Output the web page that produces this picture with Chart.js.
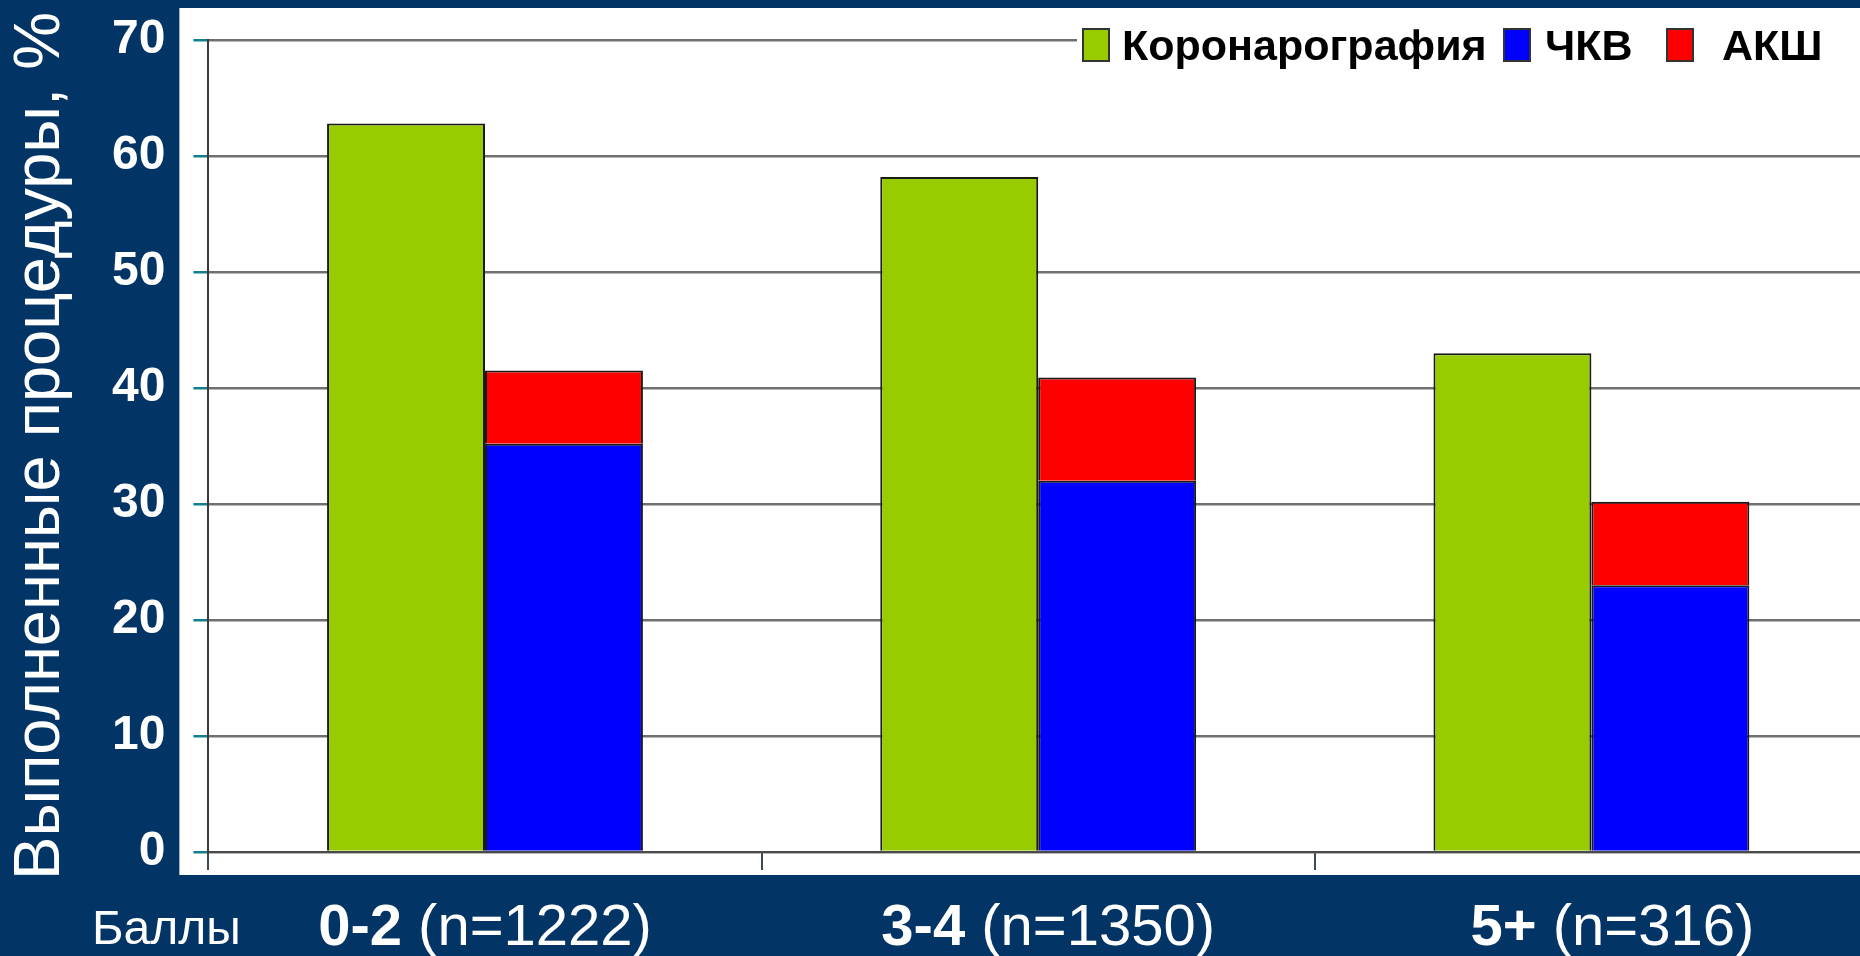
<!DOCTYPE html>
<html>
<head>
<meta charset="utf-8">
<script src="https://cdn.jsdelivr.net/npm/chart.js@4.4.0/dist/chart.umd.min.js"></script>
<style>
  html, body { margin: 0; padding: 0; background: #023466; overflow: hidden; }
  #wrap { width: 1868px; height: 956px; position: relative; }
</style>
</head>
<body>
<div id="wrap"><canvas id="procChart"></canvas></div>
<script>
const scoreGroups = ['0-2', '3-4', '5+'];
const groupSizes = ['(n=1222)', '(n=1350)', '(n=316)'];
const angiography = [62.8, 58.2, 43.0];
const pci = [35.2, 32.0, 23.0];
const cabg = [6.3, 8.9, 7.2];
const seriesNames = ['Коронарография', 'ЧКВ', 'АКШ'];
const seriesColors = ['#99cc00', '#0000ff', '#ff0000'];
const yMax = 70;
const yStep = 10;

const FONT = '"Liberation Sans", Arial, sans-serif';

// white panel behind the plot, the y labels stay on navy
const plotBackground = {
  id: 'plotBackground',
  beforeDraw(chart) {
    const { ctx, chartArea } = chart;
    ctx.save();
    ctx.fillStyle = '#ffffff';
    ctx.fillRect(chartArea.left - 29, chartArea.top - 32, chart.width, chartArea.bottom - chartArea.top + 55);
    ctx.restore();
  }
};

// legend drawn by hand so the spacing matches the slide
const legendBoxX = [1083, 1504, 1667];
const legendTextX = [1122, 1545, 1722];
const slideLegend = {
  id: 'slideLegend',
  afterDraw(chart) {
    const { ctx } = chart;
    ctx.save();
    ctx.fillStyle = '#ffffff';
    ctx.fillRect(1077, 18, chart.width - 1077, 52);
    ctx.font = 'bold 43px ' + FONT;
    ctx.textBaseline = 'alphabetic';
    chart.data.datasets.forEach((ds, i) => {
      ctx.fillStyle = ds.backgroundColor;
      ctx.fillRect(legendBoxX[i], 29, 26, 32);
      ctx.strokeStyle = '#333';
      ctx.lineWidth = 2;
      ctx.strokeRect(legendBoxX[i], 29, 26, 32);
      ctx.fillStyle = '#000';
      ctx.fillText(ds.label, legendTextX[i], 60);
    });
    ctx.restore();
  }
};

// category labels: bold score + normal count
const xLabels = {
  id: 'xLabels',
  afterDraw(chart) {
    const { ctx } = chart;
    const xs = chart.scales.x;
    const nudge = [0, 10, 21];
    ctx.save();
    ctx.fillStyle = '#ffffff';
    ctx.textBaseline = 'alphabetic';
    const y = 945;
    ctx.font = '48px ' + FONT;
    ctx.fillText('Баллы', 92, y - 1);
    scoreGroups.forEach((g, i) => {
      ctx.font = 'bold 58px ' + FONT;
      const wb = ctx.measureText(g).width;
      ctx.font = '58px ' + FONT;
      const rest = ' ' + groupSizes[i];
      const wn = ctx.measureText(rest).width;
      const cx = xs.getPixelForTick(i) + nudge[i];
      const x = cx - (wb + wn) / 2;
      ctx.font = 'bold 58px ' + FONT;
      ctx.fillText(g, x, y);
      ctx.font = '58px ' + FONT;
      ctx.fillText(rest, x + wb, y);
    });
    ctx.restore();
  }
};

new Chart(document.getElementById('procChart'), {
  type: 'bar',
  data: {
    labels: scoreGroups,
    datasets: [
      { label: seriesNames[0], data: angiography, backgroundColor: seriesColors[0], stack: 'cor' },
      { label: seriesNames[1], data: pci, backgroundColor: seriesColors[1], stack: 'rev' },
      { label: seriesNames[2], data: cabg, backgroundColor: seriesColors[2], stack: 'rev' }
    ]
  },
  options: {
    responsive: true,
    maintainAspectRatio: false,
    animation: false,
    layout: { padding: { top: 40, bottom: 86, left: 0, right: 0 } },
    datasets: {
      bar: {
        borderColor: '#1a1a1a',
        borderWidth: 2,
        categoryPercentage: 0.571,
        barPercentage: 1
      }
    },
    plugins: {
      legend: { display: false },
      tooltip: { enabled: false }
    },
    scales: {
      x: {
        stacked: true,
        grid: { display: true, drawOnChartArea: false, tickLength: 18, tickColor: '#3a4a55', lineWidth: 2 },
        border: { color: '#4a4a4a', width: 2 },
        ticks: { display: false }
      },
      y: {
        stacked: true,
        min: 0,
        max: yMax,
        ticks: {
          stepSize: yStep,
          color: '#ffffff',
          padding: 28,
          font: { family: FONT, size: 48, weight: 'bold', lineHeight: 0.4 }
        },
        grid: { color: '#707070', lineWidth: 2.5, tickColor: '#12808c', tickLength: 15 },
        border: { color: '#3a3a3a', width: 2 },
        title: {
          display: true,
          text: 'Выполненные процедуры, %',
          color: '#ffffff',
          font: { family: FONT, size: 65, weight: 'normal', lineHeight: 1 },
          padding: { top: 9, bottom: 10 }
        }
      }
    }
  },
  plugins: [plotBackground, slideLegend, xLabels]
});
</script>
</body>
</html>
